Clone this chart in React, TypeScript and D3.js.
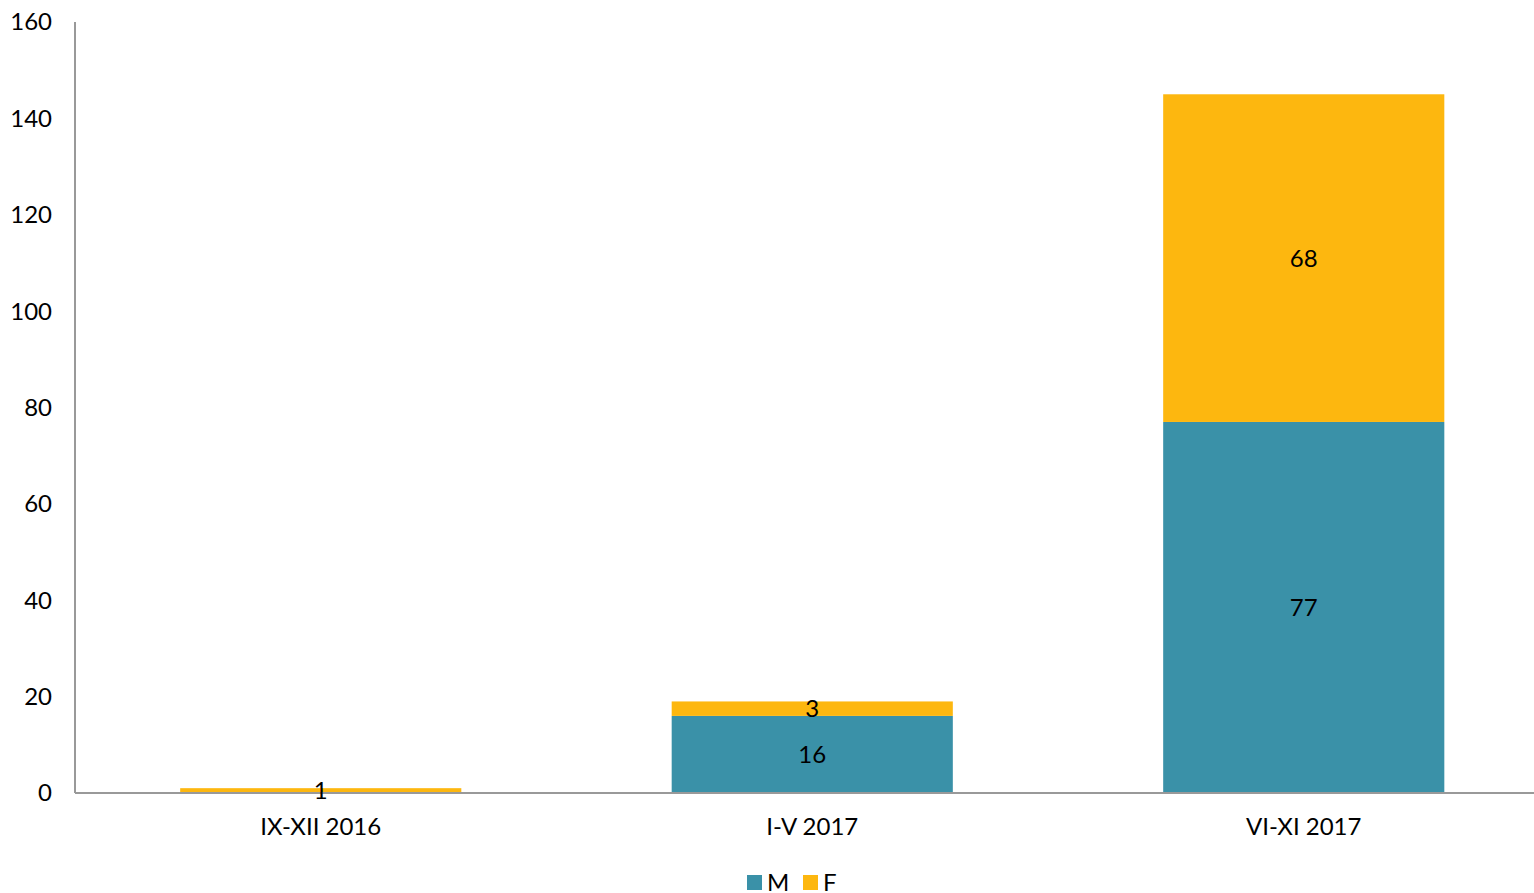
import React, { useEffect, useRef } from 'react';
import * as d3 from 'd3';

const categories = ['IX-XII 2016', 'I-V 2017', 'VI-XI 2017'];
const maleValues = [0, 16, 77];
const femaleValues = [1, 3, 68];
const yTicks = [0, 20, 40, 60, 80, 100, 120, 140, 160];
const seriesNames = ['M', 'F'];
const seriesColors = ['#3A91A8', '#FDB70F'];

const App = () => {
  const ref = useRef<SVGSVGElement>(null);

  useEffect(() => {
    draw();
  }, []);

  const draw = () => {
    const width = 1534;
    const height = 893;
    const left = 75;
    const top = 22;
    const bottom = 793;
    const font = 'Lato, "Open Sans", sans-serif';

    const svg = d3.select(ref.current);
    svg.selectAll('*').remove();

    const rows = categories.map((c, i) => ({ cat: c, M: maleValues[i], F: femaleValues[i] }));
    const stacked = d3.stack<any>().keys(seriesNames)(rows);

    const xScale = d3
      .scaleBand()
      .domain(categories)
      .range([left, left + 491.5 * 3])
      .paddingInner(0.428)
      .paddingOuter(0.214);
    const yScale = d3.scaleLinear().domain([0, 160]).range([bottom, top]);

    // bars
    stacked.forEach((layer, si) => {
      const g = svg.append('g');
      g.selectAll('rect')
        .data(layer)
        .enter()
        .filter(d => d[1] - d[0] > 0)
        .append('rect')
        .attr('x', d => xScale(d.data.cat)!)
        .attr('width', xScale.bandwidth())
        .attr('y', d => yScale(d[1]))
        .attr('height', d => yScale(d[0]) - yScale(d[1]))
        .attr('fill', seriesColors[si]);
    });

    // axes
    svg
      .append('line')
      .attr('x1', left)
      .attr('x2', width)
      .attr('y1', yScale(0))
      .attr('y2', yScale(0))
      .attr('stroke', '#999')
      .attr('stroke-width', 2);
    svg
      .append('line')
      .attr('x1', left)
      .attr('x2', left)
      .attr('y1', yScale(160))
      .attr('y2', yScale(0))
      .attr('stroke', '#999')
      .attr('stroke-width', 2);

    // value labels
    stacked.forEach(layer => {
      svg
        .append('g')
        .selectAll('text')
        .data(layer)
        .enter()
        .filter(d => d[1] - d[0] > 0)
        .append('text')
        .attr('x', d => xScale(d.data.cat)! + xScale.bandwidth() / 2)
        .attr('y', d => yScale((d[0] + d[1]) / 2))
        .attr('dy', '0.35em')
        .attr('text-anchor', 'middle')
        .attr('font-family', font)
        .attr('font-size', 24)
        .attr('fill', '#000')
        .text(d => d[1] - d[0]);
    });

    // y tick labels
    svg
      .append('g')
      .selectAll('text')
      .data(yTicks)
      .enter()
      .append('text')
      .attr('x', 52)
      .attr('y', d => yScale(d))
      .attr('dy', '0.35em')
      .attr('text-anchor', 'end')
      .attr('font-family', font)
      .attr('font-size', 24)
      .attr('fill', '#000')
      .text(d => d);

    // category labels
    svg
      .append('g')
      .selectAll('text')
      .data(categories)
      .enter()
      .append('text')
      .attr('x', d => xScale(d)! + xScale.bandwidth() / 2)
      .attr('y', 827)
      .attr('dy', '0.35em')
      .attr('text-anchor', 'middle')
      .attr('font-family', font)
      .attr('font-size', 24)
      .attr('fill', '#000')
      .text(d => d);

    // legend
    const legendX = [747, 803];
    const legend = svg
      .append('g')
      .selectAll('g')
      .data(seriesNames)
      .enter()
      .append('g')
      .attr('transform', (d, i) => `translate(${legendX[i]},875)`);
    legend
      .append('rect')
      .attr('width', 15)
      .attr('height', 15)
      .attr('fill', (d, i) => seriesColors[i]);
    legend
      .append('text')
      .attr('x', 20)
      .attr('y', 8)
      .attr('dy', '0.35em')
      .attr('font-family', font)
      .attr('font-size', 24)
      .attr('fill', '#000')
      .text(d => d);
  };

  return (
    <div style={{ position: 'absolute', left: 0, top: 0 }}>
      <svg ref={ref} width={1534} height={893} style={{ display: 'block', overflow: 'hidden' }} />
    </div>
  );
};

export default App;
